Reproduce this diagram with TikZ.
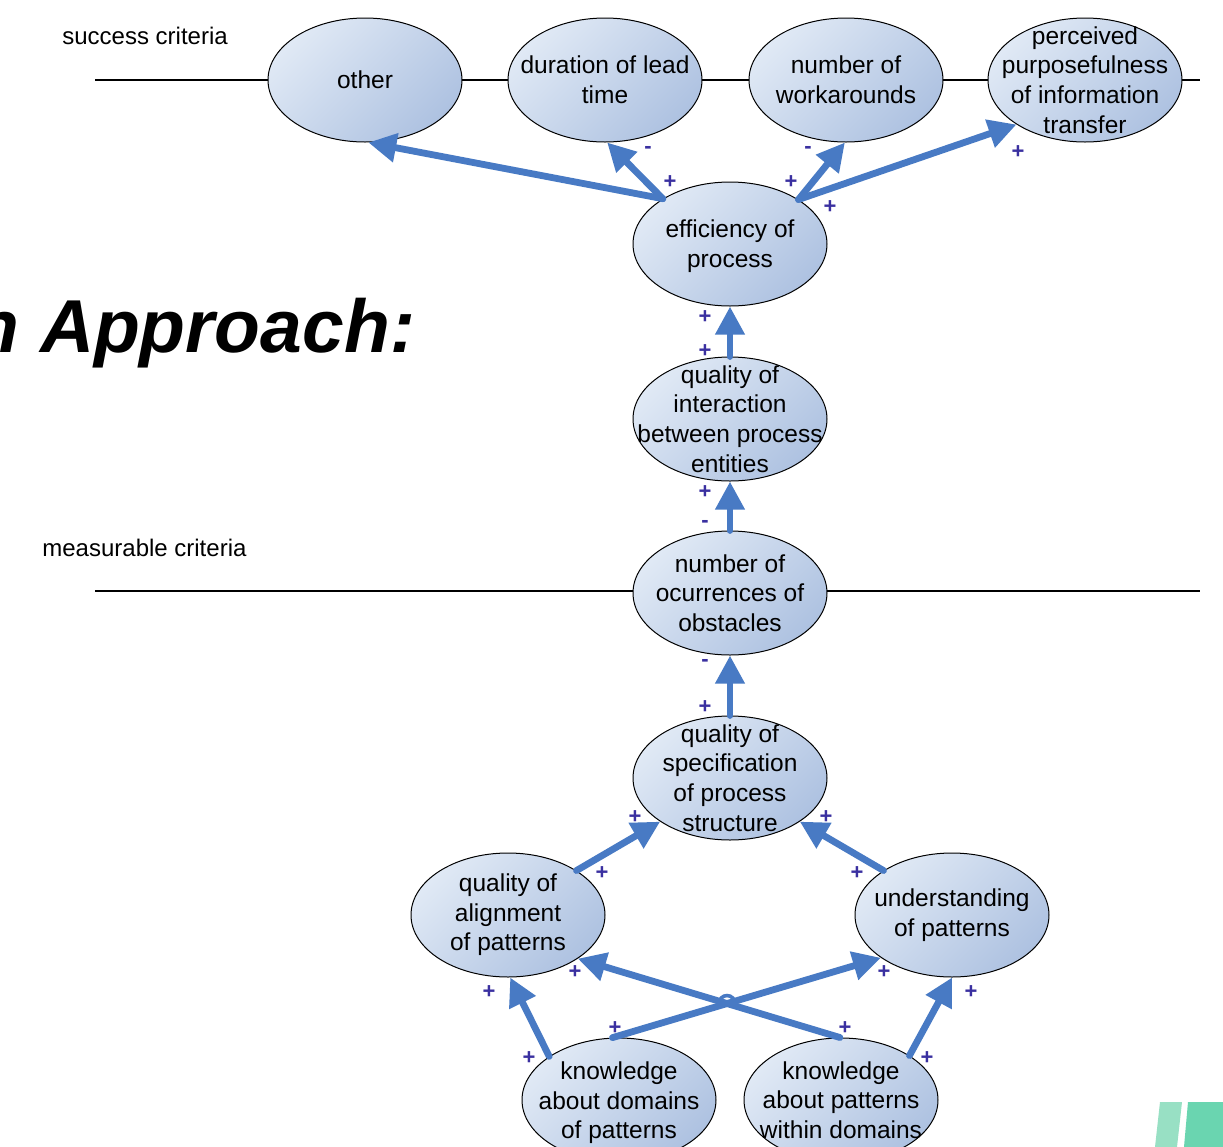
\documentclass[tikz,border=0pt]{standalone}
\usepackage{fontspec}
\setmainfont{Liberation Sans}
\usetikzlibrary{shapes.geometric,arrows.meta,intersections}
\definecolor{arrblue}{RGB}{72,122,196}
\definecolor{signc}{RGB}{58,48,160}
\definecolor{bublight}{RGB}{224,233,245}
\definecolor{bubdark}{RGB}{174,194,225}
\definecolor{glight}{RGB}{152,224,196}
\definecolor{gdark}{RGB}{106,213,176}
\begin{document}
\begin{tikzpicture}[x=0.5pt,y=-0.5pt,
  bub/.style={ellipse, draw=black, line width=0.5pt, minimum width=97pt, minimum height=62pt, inner sep=0pt,
              top color=bublight, bottom color=bubdark, shading angle=45},
  txt/.style={align=center, font=\fontsize{12.25pt}{14.8pt}\selectfont, inner sep=0pt},
  lbl/.style={font=\fontsize{12pt}{14pt}\selectfont, inner sep=0pt, anchor=base west},
  sg/.style={text=signc, font=\bfseries\fontsize{11pt}{11pt}\selectfont, inner sep=0pt},
  arr/.style={draw=arrblue, line width=3.4pt, line cap=round, -{Triangle[length=14pt,width=14pt]}},
  hline/.style={draw=black, line width=0.9pt}]
\clip (0,0) rectangle (1223,1147);
\fill[white] (0,0) rectangle (1223,1147);
% green bars
\fill[glight] (1160,1102) -- (1182,1102) -- (1177,1147) -- (1155,1147) -- cycle;
\fill[gdark] (1188,1102) -- (1223,1102) -- (1223,1147) -- (1184,1147) -- cycle;
% title fragment
\node[anchor=base west, inner sep=0pt, font=\bfseries\itshape\fontsize{37.5pt}{40pt}\selectfont] (title) at (-27,352) {n Approach:};
% labels
\node[lbl] (succ) at (62,44) {success criteria};
\node[lbl] (meas) at (42,556) {measurable criteria};
% horizontal lines
\coordinate (tl) at (95,80); \coordinate (tr) at (1200,80);
\coordinate (ml) at (95,591); \coordinate (mr) at (1200,591);
\draw[hline] (tl) -- (tr);
\draw[hline] (ml) -- (mr);
% ellipses
\node[bub] (oth) at (365,80) {};
\node[bub] (dur) at (605,80) {};
\node[bub] (wrk) at (846,80) {};
\node[bub] (per) at (1085,80) {};
\node[bub] (eff) at (730,244) {};
\node[bub] (int) at (730,419) {};
\node[bub] (obs) at (730,593) {};
\node[bub] (spe) at (730,778) {};
\node[bub] (ali) at (508,915) {};
\node[bub] (und) at (952,915) {};
\node[bub] (kdo) at (619,1100) {};
\node[bub] (kwi) at (841,1100) {};
% texts
\node[txt] (oth-t) at (oth) {other};
\node[txt] (dur-t) at (dur) {duration of lead\\time};
\node[txt] (wrk-t) at (wrk) {number of\\workarounds};
\node[txt] (per-t) at (per) {perceived\\purposefulness\\of information\\transfer};
\node[txt] (eff-t) at ([yshift=-1pt]eff) {efficiency of\\process};
\node[txt] (int-t) at (int) {quality of\\interaction\\between process\\entities};
\node[txt] (obs-t) at (obs) {number of\\ocurrences of\\obstacles};
\node[txt] (spe-t) at (spe) {quality of\\specification\\of process\\structure};
\node[txt] (ali-t) at (ali) {quality of\\alignment\\of patterns};
\node[txt] (und-t) at (und) {understanding\\of patterns};
\node[txt] (kdo-t) at ([yshift=-1.5pt]kdo) {knowledge\\about domains\\of patterns};
\node[txt] (kwi-t) at (kwi) {knowledge\\about patterns\\within domains};
% arrows
\draw[arr] (eff.146) -- (oth.273);
\draw[arr] (eff.146) -- (dur.272);
\draw[arr] (eff.33) -- (wrk.269);
\draw[arr] (eff.33) -- (per.213);
\draw[arr] (int.90) -- (eff.270);
\draw[arr] (obs.90) -- (int.270);
\draw[arr] (spe.90) -- (obs.270);
\draw[arr] (ali.33) -- (spe.212);
\draw[arr] (und.147) -- (spe.328);
\draw[arr] (kdo.148) -- (ali.272);
\draw[arr, name path=a11] (kdo.96) -- (und.211);
\draw[arr, name path=a12] (kwi.91) -- (ali.328);
\draw[arr] (kwi.33) -- (und.270);
\path[name intersections={of=a11 and a12, by=X}];
\draw[arrblue, line width=1.8pt] ([xshift=-4pt]X) arc[start angle=180, end angle=0, radius=4pt];
% signs
\node[sg] (s1) at (648,150) {-};
\node[sg] (s2) at (670,182) {+};
\node[sg] (s3) at (808,150) {-};
\node[sg] (s4) at (791,182) {+};
\node[sg] (s5) at (830,207) {+};
\node[sg] (s6) at (1018,152) {+};
\node[sg] (s7) at (705,317) {+};
\node[sg] (s8) at (705,351) {+};
\node[sg] (s9) at (705,492) {+};
\node[sg] (s10) at (705,524) {-};
\node[sg] (s11) at (705,663) {-};
\node[sg] (s12) at (705,707) {+};
\node[sg] (s13) at (635,817) {+};
\node[sg] (s14) at (602,873) {+};
\node[sg] (s15) at (826,817) {+};
\node[sg] (s16) at (857,873) {+};
\node[sg] (s17) at (489,992) {+};
\node[sg] (s18) at (529,1058) {+};
\node[sg] (s19) at (575,972) {+};
\node[sg] (s20) at (845,1028) {+};
\node[sg] (s21) at (884,972) {+};
\node[sg] (s22) at (615,1028) {+};
\node[sg] (s23) at (971,992) {+};
\node[sg] (s24) at (927,1058) {+};
\end{tikzpicture}
\end{document}
